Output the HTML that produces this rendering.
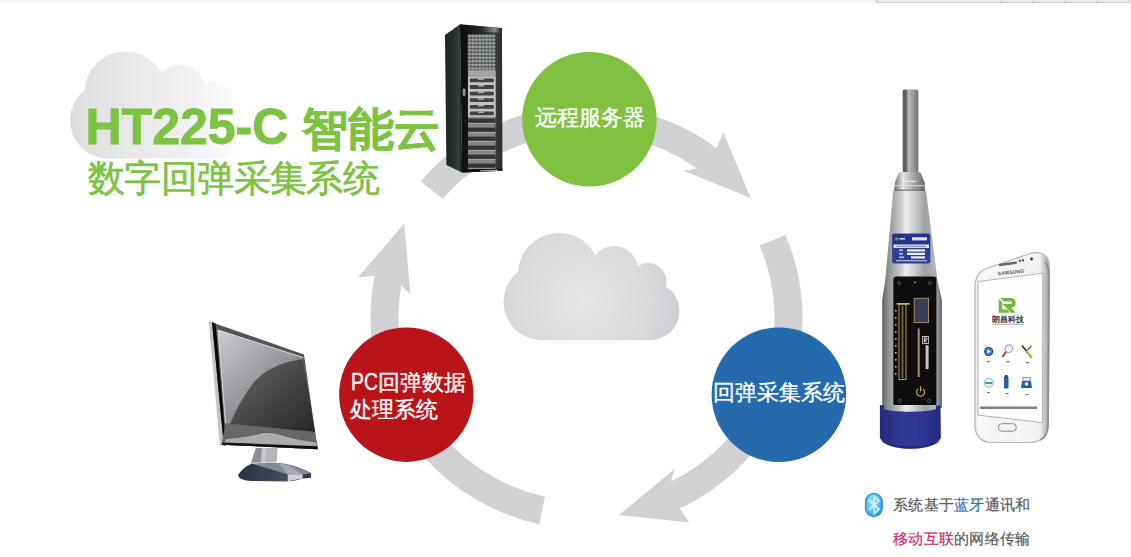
<!DOCTYPE html>
<html><head><meta charset="utf-8">
<style>
html,body{margin:0;padding:0;width:1131px;height:557px;overflow:hidden;background:#fff;font-family:"Liberation Sans",sans-serif}
#g{position:absolute;left:0;top:0}
.t{position:absolute;white-space:nowrap;line-height:1}
</style></head><body>
<svg id="g" width="1131" height="557" viewBox="0 0 1131 557">
<defs>
 <radialGradient id="cloudC" gradientUnits="userSpaceOnUse" cx="582" cy="300" r="105">
  <stop offset="0" stop-color="#e5e5e7"/><stop offset="0.65" stop-color="#d9d9dc"/><stop offset="1" stop-color="#cbccd0"/>
 </radialGradient>
 <linearGradient id="cloudT" gradientUnits="userSpaceOnUse" x1="503.5" y1="0" x2="673.5" y2="0">
  <stop offset="0" stop-color="#dddddf"/><stop offset="0.35" stop-color="#e8e8e9"/><stop offset="0.7" stop-color="#f1f1f2"/><stop offset="1" stop-color="#fdfdfd"/>
 </linearGradient>
 <g id="cloud">
  <circle cx="542" cy="301.7" r="38.5"/>
  <circle cx="559" cy="274" r="41"/>
  <circle cx="614" cy="270" r="24"/>
  <circle cx="648" cy="281.5" r="18.5"/>
  <circle cx="650.5" cy="311" r="29"/>
  <rect x="542" y="274" width="108.5" height="66.2"/>
 </g>
</defs>
<!-- top strip -->
<rect x="0" y="0" width="1131" height="2.5" fill="#f3f3f3"/>
<rect x="876.5" y="-2" width="253" height="4.5" fill="#ececec" stroke="#c8c8c8" stroke-width="1"/>
<line x1="1001.5" y1="0" x2="1001.5" y2="2.5" stroke="#c8c8c8"/>
<line x1="1033.5" y1="0" x2="1033.5" y2="2.5" stroke="#c8c8c8"/>
<line x1="1065.5" y1="0" x2="1065.5" y2="2.5" stroke="#c8c8c8"/>
<line x1="1097.5" y1="0" x2="1097.5" y2="2.5" stroke="#c8c8c8"/>
<line x1="1130.5" y1="3" x2="1130.5" y2="557" stroke="#f2f2f2"/>

<!-- title cloud -->
<g fill="url(#cloudT)" transform="translate(-433.5,-181.5)"><use href="#cloud"/></g>

<!-- center cloud -->
<g fill="url(#cloudC)"><use href="#cloud"/></g>

<!-- arrows -->
<g fill="#d0d1d3">
<path d="M420.7 181.4 A216 212 0 0 1 716.7 148.2 L723.2 132.3 L750.8 198.0 L683.4 170.7 L697.2 168.6 A188 184 0 0 0 442.8 198.7 Z"/>
<path d="M785.5 234.9 A216 212 0 0 1 679.7 508.6 L689.3 522.6 L618.9 515.1 L674.5 469.1 L671.1 481.6 A188 184 0 0 0 759.6 245.5 Z"/>
<path d="M539.4 524.2 A216 212 0 0 1 374.6 276.0 L358.0 277.3 L404.3 223.5 L410.4 294.4 L401.3 285.5 A188 184 0 0 0 544.9 496.7 Z"/>
</g>

<!-- server -->
<defs>
 <linearGradient id="srvSide" gradientUnits="userSpaceOnUse" x1="445" y1="0" x2="462" y2="0">
  <stop offset="0" stop-color="#1e2424"/><stop offset="0.6" stop-color="#2a3030"/><stop offset="0.8" stop-color="#3a4040"/><stop offset="1" stop-color="#121414"/>
 </linearGradient>
 <linearGradient id="srvFront" gradientUnits="userSpaceOnUse" x1="460" y1="0" x2="502" y2="0">
  <stop offset="0" stop-color="#0a0a0a"/><stop offset="0.18" stop-color="#141616"/><stop offset="0.8" stop-color="#3a3f3f"/><stop offset="1" stop-color="#2a2e2e"/>
 </linearGradient>
 <linearGradient id="srvTop" gradientUnits="userSpaceOnUse" x1="460" y1="0" x2="502" y2="0">
  <stop offset="0" stop-color="#2a2c2c"/><stop offset="0.55" stop-color="#9a9c9c"/><stop offset="1" stop-color="#3a3c3c"/>
 </linearGradient>
 <pattern id="mesh" patternUnits="userSpaceOnUse" x="467.8" y="34.3" width="3.45" height="3.6">
  <rect width="3.45" height="3.6" fill="#545858"/><rect x="0.45" y="0.6" width="2.5" height="2.4" rx="0.6" fill="#a8aaaa"/>
 </pattern>
 <linearGradient id="srvHi" gradientUnits="userSpaceOnUse" x1="462" y1="0" x2="502" y2="0">
  <stop offset="0" stop-color="#0e1010" stop-opacity="0"/><stop offset="0.5" stop-color="#2a2c2c"/><stop offset="0.82" stop-color="#8a8c8c"/><stop offset="1" stop-color="#1a1c1c"/>
 </linearGradient>
 <pattern id="slotp" patternUnits="userSpaceOnUse" x="468" y="0" width="2" height="2">
  <rect width="2" height="2" fill="#2a2c2c"/><rect x="0.5" y="0.5" width="1" height="1" fill="#4e5050"/>
 </pattern>
</defs>
<polygon points="445,35 460,24.3 462.1,172.4 446.4,165" fill="url(#srvSide)"/>
<polygon points="460,24.3 502,28 502.4,170.7 462.1,172.4" fill="url(#srvFront)"/>
<polygon points="460.5,24.6 502,28.2 502,33 461,30" fill="url(#srvHi)"/>
<rect x="467.8" y="34.3" width="27.6" height="36.2" fill="url(#mesh)"/>
<rect x="468" y="70.5" width="27.5" height="46.5" fill="#b8baba"/>
<rect x="468" y="70.5" width="27.5" height="6.5" fill="#a4a6a6"/>
<rect x="468" y="77.3" width="27.5" height="6.2" fill="#c4c6c6"/><rect x="469.8" y="78.5" width="24" height="3.8" rx="0.8" fill="#3e4242"/><rect x="478" y="78.5" width="6" height="1.4" fill="#b0b2b2"/>
<rect x="468" y="83.9" width="27.5" height="6.2" fill="#c4c6c6"/><rect x="469.8" y="85.1" width="24" height="3.8" rx="0.8" fill="#3e4242"/><rect x="478" y="85.1" width="6" height="1.4" fill="#b0b2b2"/>
<rect x="468" y="90.5" width="27.5" height="6.2" fill="#c4c6c6"/><rect x="469.8" y="91.7" width="24" height="3.8" rx="0.8" fill="#3e4242"/><rect x="478" y="91.7" width="6" height="1.4" fill="#b0b2b2"/>
<rect x="468" y="97.1" width="27.5" height="6.2" fill="#c4c6c6"/><rect x="469.8" y="98.3" width="24" height="3.8" rx="0.8" fill="#3e4242"/><rect x="478" y="98.3" width="6" height="1.4" fill="#b0b2b2"/>
<rect x="468" y="103.7" width="27.5" height="6.2" fill="#c4c6c6"/><rect x="469.8" y="104.9" width="24" height="3.8" rx="0.8" fill="#3e4242"/><rect x="478" y="104.9" width="6" height="1.4" fill="#b0b2b2"/>
<rect x="468" y="110.3" width="27.5" height="6.2" fill="#c4c6c6"/><rect x="469.8" y="111.5" width="24" height="3.8" rx="0.8" fill="#3e4242"/><rect x="478" y="111.5" width="6" height="1.4" fill="#b0b2b2"/>
<rect x="468" y="117" width="27.5" height="51.4" fill="#858787"/>
<rect x="468" y="118.6" width="27.5" height="4.3" fill="url(#slotp)"/><rect x="468" y="122.9" width="27.5" height="0.9" fill="#a8aaaa"/>
<rect x="468" y="127.6" width="27.5" height="4.3" fill="url(#slotp)"/><rect x="468" y="131.9" width="27.5" height="0.9" fill="#a8aaaa"/>
<rect x="468" y="136.6" width="27.5" height="4.3" fill="url(#slotp)"/><rect x="468" y="140.9" width="27.5" height="0.9" fill="#a8aaaa"/>
<rect x="468" y="145.6" width="27.5" height="4.3" fill="url(#slotp)"/><rect x="468" y="149.9" width="27.5" height="0.9" fill="#a8aaaa"/>
<rect x="468" y="154.6" width="27.5" height="4.3" fill="url(#slotp)"/><rect x="468" y="158.9" width="27.5" height="0.9" fill="#a8aaaa"/>
<rect x="468" y="163.6" width="27.5" height="4.3" fill="url(#slotp)"/><rect x="468" y="167.9" width="27.5" height="0.9" fill="#a8aaaa"/>
<polygon points="462.1,172.4 502.4,170.7 502.4,168.4 462.1,170" fill="#0a0a0a"/>
<polygon points="480,171.5 498,170.9 498,169.6 480,170.2" fill="#9a9a9a"/>
<rect x="462.6" y="88.6" width="2.9" height="7.6" rx="1.4" fill="#8a8c8c"/>

<!-- monitor -->
<defs>
 <linearGradient id="scr" gradientUnits="userSpaceOnUse" x1="220" y1="335" x2="300" y2="425">
  <stop offset="0" stop-color="#c8c8cc"/><stop offset="0.5" stop-color="#98989c"/><stop offset="1" stop-color="#626266"/>
 </linearGradient>
 <linearGradient id="scrDark" gradientUnits="userSpaceOnUse" x1="250" y1="360" x2="314" y2="430">
  <stop offset="0" stop-color="#606062"/><stop offset="1" stop-color="#28282a"/>
 </linearGradient>
 <linearGradient id="neck" gradientUnits="userSpaceOnUse" x1="251" y1="0" x2="279" y2="0">
  <stop offset="0" stop-color="#8a8a8e"/><stop offset="0.35" stop-color="#a4a4a8"/><stop offset="0.45" stop-color="#c9c9cc"/><stop offset="1" stop-color="#b0b0b4"/>
 </linearGradient>
 <linearGradient id="base" gradientUnits="userSpaceOnUse" x1="238" y1="0" x2="311" y2="0">
  <stop offset="0" stop-color="#2a3246"/><stop offset="0.5" stop-color="#3e4658"/><stop offset="1" stop-color="#525a6a"/>
 </linearGradient>
</defs>
<polygon points="209.3,321.5 304,354.5 317.6,449.2 221.4,444.7" fill="#50555a"/>
<polygon points="208.8,321.3 212,322 223.8,445.6 219.8,445.6" fill="#c4c4c6"/>
<polygon points="212,322 215.5,323.5 226,445.5 223.8,445.6" fill="#0a0a0a"/>
<polygon points="216,324 218.5,327 228,445 226.5,445" fill="#5a5e5f"/>
<polygon points="218,330 303,357.5 315,432 225.5,423.5" fill="url(#scr)"/>
<path d="M303,359 C288,361 270,366 256,380 C244,394 236,410 230,423.9 L315,432 Z" fill="url(#scrDark)"/>
<polyline points="225.5,423.5 218,330 303,357.5" fill="none" stroke="#e8e8ea" stroke-width="0.9"/>
<path d="M225.5,423.5 L315,432 L317.6,449.2 L221.4,444.7 Z" fill="#68686b"/>
<path d="M226,438.6 C240,437.5 252,435.5 260.7,433.2 C266,432 273,432.3 282,435 C290,437.5 300,440 316.5,442 L317.4,447.8 L222.8,444.2 Z" fill="#acacb0" stroke="#4a4a4c" stroke-width="0.6"/>
<path d="M223,442.5 L317.3,446.3 L317.6,449.2 L221.4,444.7 Z" fill="#101010"/>
<polygon points="256,448 277.6,448 276.7,462.5 251.1,462.5" fill="#b6b6ba"/>
<polygon points="256,448 262,448 261,462.5 251.1,462.5" fill="#8e8e92"/>
<polygon points="262,448 266,448 265,462.5 261,462.5" fill="#c8c8cc"/>
<path d="M238.1,475 C241,470 246,466 251.5,463.8 L278.5,462.9 C288,464 296,466 301.8,468.7 C306,470.5 309.5,472 311,473.2 L311,477.7 L302.7,478.6 C298,480 293,481.3 287.5,481.3 L252,481 C244,480.8 238.5,478.5 238.1,475 Z" fill="#323a4c"/>
<polygon points="251.5,463.8 278.5,462.9 291,465.5 301.8,468.7 311,473.2 302.7,474.5 287.5,474.6" fill="#868a94"/>
<polygon points="279,463.2 289,465.2 302.7,474.5 287.5,474.6" fill="#a4a8b0"/>
<polygon points="287.5,474.6 302.7,474.5 302.7,478.6 287.5,481.3" fill="#d2d2d6"/>
<polygon points="238.1,475 251.5,463.8 287.5,474.6 287.5,481.3 252,481" fill="url(#base)"/>

<!-- hammer -->
<defs>
 <linearGradient id="rod" x1="0" y1="0" x2="1" y2="0">
  <stop offset="0" stop-color="#505254"/><stop offset="0.22" stop-color="#626466"/><stop offset="0.38" stop-color="#b8babc"/><stop offset="0.55" stop-color="#a4a6a8"/><stop offset="0.85" stop-color="#86888a"/><stop offset="1" stop-color="#606264"/>
 </linearGradient>
 <linearGradient id="body" gradientUnits="userSpaceOnUse" x1="882" y1="0" x2="942" y2="0">
  <stop offset="0" stop-color="#5e6062"/><stop offset="0.1" stop-color="#8e9092"/><stop offset="0.3" stop-color="#c4c6c8"/><stop offset="0.4" stop-color="#eeeeef"/><stop offset="0.52" stop-color="#cfd1d3"/><stop offset="0.72" stop-color="#9ea0a2"/><stop offset="0.88" stop-color="#b4b6b8"/><stop offset="1" stop-color="#606264"/>
 </linearGradient>
 <linearGradient id="collar" gradientUnits="userSpaceOnUse" x1="894" y1="0" x2="925" y2="0">
  <stop offset="0" stop-color="#6a6c6e"/><stop offset="0.3" stop-color="#e6e6e8"/><stop offset="0.6" stop-color="#a8aaac"/><stop offset="1" stop-color="#6a6c6e"/>
 </linearGradient>
 <linearGradient id="cap" gradientUnits="userSpaceOnUse" x1="879" y1="0" x2="942" y2="0">
  <stop offset="0" stop-color="#22287a"/><stop offset="0.25" stop-color="#2e3692"/><stop offset="0.6" stop-color="#303898"/><stop offset="1" stop-color="#22297c"/>
 </linearGradient>
</defs>
<rect x="902.7" y="89.5" width="15.6" height="83" rx="1.8" fill="url(#rod)"/>
<path d="M901.5,172 C899,172 898,174 897.5,176 L895,182 L894,191 L925,191 L924.5,182 L922,176 C921.5,174 920.5,172 918,172 Z" fill="url(#collar)"/>
<rect x="895" y="182.5" width="29.5" height="6" fill="url(#collar)"/><rect x="903" y="180.8" width="13" height="1.2" fill="#f0f0f0" opacity="0.9"/><rect x="895" y="185" width="29.5" height="1.2" fill="#d8d8da" opacity="0.8"/>

<rect x="894.5" y="189.8" width="30.5" height="1.3" fill="#3a3c3e"/>
<path d="M893.3,190.5 L926,190.5 L937.6,281 L941.9,300 L941.9,408 L882.2,408 L882.2,300 L885.2,281 Z" fill="url(#body)"/>
<path d="M892.1,235.5 C892.1,234.2 893,233.5 894.5,233.5 L928,233.5 C929.5,233.5 930.3,234.2 930.3,235.5 L930.3,261.6 C930.3,262.9 929.5,263.6 928,263.6 L894.5,263.6 C893,263.6 892.1,262.9 892.1,261.6 Z" fill="#2e3f96"/>
<rect x="893" y="234.3" width="36.4" height="10" rx="1.5" fill="#24348a"/>
<circle cx="896.8" cy="239" r="1.8" fill="#4aa84a"/><rect x="899.5" y="238" width="5.5" height="1.6" fill="#c8d0ea"/><rect x="912" y="237.2" width="15" height="3.2" fill="#d8def0"/>
<rect x="893.5" y="244.5" width="35.5" height="3.4" fill="#e4e8f0"/><rect x="896" y="245.6" width="30" height="1.1" fill="#7a82a8"/>
<g fill="#eef0f8"><rect x="907" y="249.3" width="18" height="2.2"/><rect x="907" y="252.8" width="18" height="2.2"/><rect x="911" y="256.3" width="14" height="2.2"/></g>
<g fill="#b8c0e0"><rect x="899" y="249.5" width="4" height="1.6"/><rect x="899" y="253" width="4" height="1.6"/><rect x="899" y="256.5" width="5" height="1.6"/></g>
<rect x="896" y="260" width="31" height="1.3" fill="#a8b2d8"/>
<rect x="893.3" y="276.6" width="43.1" height="130.4" rx="3" fill="#0e0e10"/>
<g fill="none" stroke="#666" stroke-width="0.8"><circle cx="899" cy="283" r="1.5"/><circle cx="930" cy="283" r="1.5"/><circle cx="899.7" cy="400.8" r="1.6"/><circle cx="928.9" cy="400.8" r="1.6"/></g>
<circle cx="915" cy="282.5" r="0.8" fill="#ccc"/>
<rect x="914.2" y="298.3" width="14.3" height="24.3" fill="#3a3c58" stroke="#a89868" stroke-width="0.9"/>
<rect x="899" y="304" width="7" height="75.5" fill="none" stroke="#c8a850" stroke-width="0.9"/>
<rect x="896.6" y="303" width="13.2" height="1.6" fill="#d8b850"/>
<line x1="902.5" y1="306" x2="902.5" y2="378" stroke="#8a7440" stroke-width="1.5"/>
<g fill="#d8b850"><rect x="895" y="310" width="1.6" height="1.6"/><rect x="895" y="317" width="1.6" height="1.6"/><rect x="895" y="324" width="1.6" height="1.6"/><rect x="895" y="331" width="1.6" height="1.6"/><rect x="895" y="338" width="1.6" height="1.6"/><rect x="895" y="345" width="1.6" height="1.6"/><rect x="895" y="352" width="1.6" height="1.6"/><rect x="895" y="359" width="1.6" height="1.6"/><rect x="895" y="366" width="1.6" height="1.6"/><rect x="895" y="373" width="1.6" height="1.6"/></g>
<rect x="917.7" y="328.5" width="2" height="48.5" fill="#bca878" opacity="0.85"/>
<rect x="922.6" y="336.4" width="6" height="7" fill="none" stroke="#ddd" stroke-width="0.8"/><path d="M924.3,342.5 L924.3,337.8 L926.3,337.8 C927.3,337.8 927.3,340 926.3,340 L924.3,340 L927,342.5" fill="none" stroke="#fff" stroke-width="0.9"/>
<rect x="925.6" y="345.3" width="3" height="23.7" fill="#d8d8d8" opacity="0.9"/>
<path d="M918.2,389 A4,4 0 1 0 923,389" fill="none" stroke="#d8b850" stroke-width="1.1"/><line x1="920.6" y1="386.3" x2="920.6" y2="391.3" stroke="#d8b850" stroke-width="1.1"/>
<path d="M879.9,405 C895,406.5 925,406.5 940.5,405.5 L940.8,438 C938,444.5 925,448.8 910.5,448.8 C896,448.8 883,444.5 879.9,438 Z" fill="url(#cap)"/>
<path d="M880.5,440 C884,445.5 896,448.8 910.5,448.8 C925,448.8 937,445.5 940.5,440 C934,444 922,446 910.5,446 C899,446 887,444 880.5,440 Z" fill="#1a2060" opacity="0.6"/>
<path d="M884,405 L936,405 L936,409.3 C925,412.6 895,412.6 884,409.3 Z" fill="url(#body)"/>

<!-- phone -->
<defs>
 <linearGradient id="phEdge" gradientUnits="userSpaceOnUse" x1="970" y1="0" x2="1052" y2="0">
  <stop offset="0" stop-color="#c8c8ca"/><stop offset="0.1" stop-color="#f6f6f6"/><stop offset="0.85" stop-color="#f2f2f2"/><stop offset="0.95" stop-color="#a8a8aa"/><stop offset="1" stop-color="#d8d8da"/>
 </linearGradient>
 <radialGradient id="bt" cx="0.4" cy="0.35" r="0.7">
  <stop offset="0" stop-color="#a0e0f6"/><stop offset="0.6" stop-color="#5cc0ec"/><stop offset="1" stop-color="#2a94dc"/>
 </radialGradient>
</defs>
<path d="M974.9,424 L974.9,287 C975,276 979.5,270 991,267 L1030,253.5 C1041,250.5 1049.5,255 1049.5,268 L1048.5,424 C1048.5,436 1042,442 1030,442.5 L992,442.5 C980,442 974.9,436 974.9,424 Z" fill="url(#phEdge)" stroke="#b4b4b6" stroke-width="1.2"/>
<path d="M1045,262 C1048,266 1049,270 1049,275 L1048,424 C1048,433 1045,438 1040,440" fill="none" stroke="#8e8e90" stroke-width="1.6"/>
<polygon points="978,281.6 1042.8,273.2 1042.5,422.6 978,415.1" fill="#fefefe" stroke="#9aa0b8" stroke-width="0.8"/>
<rect x="998.5" y="262.8" width="18.5" height="2.4" rx="1.2" fill="#6a6a6c" transform="rotate(-8 1007 264)"/>
<circle cx="1020" cy="260.8" r="1.1" fill="#333"/><circle cx="1023" cy="260.4" r="1.1" fill="#333"/><circle cx="1031.5" cy="259" r="1.4" fill="#333"/>
<text x="997.5" y="274.3" font-size="5" fill="#555" font-weight="bold" font-family="Liberation Sans" transform="rotate(-6 1008 272)" letter-spacing="0.2">SAMSUNG</text>
<path d="M998.7,298.5 L1002.3,302.5 L1002.3,309.5 L1007,309.5 L1010,312.7 L998.7,312.7 Z" fill="#74b83e"/>
<path d="M1000.5,298 L1010.5,298 C1014,298 1015.8,300.5 1015.8,303 C1015.8,305.8 1014,307.5 1011,307.8 L1015.8,312.7 L1011,312.7 L1002.5,304 L1010,304 C1011.5,304 1012,303.5 1012,302.8 C1012,302 1011.5,301.5 1010,301.5 L1003.8,301.5 Z" fill="#74b83e"/>
<text x="991.8" y="322" font-size="8" fill="#3a3a3a" font-family="Liberation Sans" font-weight="bold">朗昌科技</text>
<rect x="992" y="323.8" width="32" height="0.8" fill="#999"/>
<circle cx="988.7" cy="351.5" r="4.6" fill="#1e3c8c"/><circle cx="988.7" cy="351.5" r="3.4" fill="#3a86d8"/><path d="M987.5,349.5 L990.8,351.5 L987.5,353.5 Z" fill="#fff"/><line x1="985" y1="345" x2="987" y2="347" stroke="#999" stroke-width="0.8"/>
<circle cx="1008.8" cy="348.7" r="3.8" fill="#eef4fa" stroke="#8aa8c8" stroke-width="1.2"/><line x1="1006" y1="351.8" x2="1002.3" y2="357" stroke="#c02828" stroke-width="1.8"/>
<line x1="1022" y1="345.5" x2="1031.5" y2="357.5" stroke="#222" stroke-width="1.5"/><line x1="1031.5" y1="346" x2="1026" y2="352" stroke="#666" stroke-width="1.4"/><line x1="1026.5" y1="350.5" x2="1032" y2="357.5" stroke="#e0b830" stroke-width="2"/>
<circle cx="988.7" cy="382.8" r="4.5" fill="#e8f4fc" stroke="#8ab8e0" stroke-width="1"/><rect x="985.2" y="382" width="7" height="2" fill="#4a9a8a"/>
<rect x="1004" y="376.5" width="4.5" height="12" rx="1.2" fill="#2a5aa8"/><rect x="1005" y="375" width="2.5" height="2.5" fill="#1a3a78"/>
<path d="M1022,381 L1031,381 L1032,388 L1021,388 Z" fill="#2a5ab0"/><circle cx="1026.5" cy="384" r="1.8" fill="#eef"/><rect x="1023" y="377.5" width="7" height="3.5" fill="none" stroke="#777" stroke-width="0.8"/>
<g fill="#777"><rect x="987" y="361" width="3" height="1.2"/><rect x="1006.5" y="361" width="3" height="1.2"/><rect x="1026" y="362" width="3" height="1.2"/><rect x="987" y="392" width="3" height="1.2"/><rect x="1005.5" y="393" width="3" height="1.2"/><rect x="1025.5" y="394" width="3" height="1.2"/></g>
<rect x="980" y="406.5" width="57" height="2.5" fill="#6a6a6a" opacity="0.85"/>
<rect x="998.4" y="423.7" width="17.9" height="7.5" rx="3.5" fill="#f2f2f2" stroke="#8a8a8c" stroke-width="1"/>
<!-- bluetooth -->
<rect x="865.6" y="493.6" width="16.6" height="22.8" rx="7.5" ry="8.5" fill="url(#bt)" stroke="#2a8ad8" stroke-width="1.3"/>
<path d="M868.8,500 L879,509.3 L874.3,513.5 L874.3,496.5 L879,500.7 L868.8,510" fill="none" stroke="#e8f8ff" stroke-width="1.7" opacity="0.8"/>

<!-- circles -->
<circle cx="589.4" cy="119.3" r="67.3" fill="#80c141"/>
<circle cx="406.3" cy="394.7" r="67.2" fill="#ba141b"/>
<circle cx="778.9" cy="394.7" r="67.3" fill="#266aae"/>

</svg>
<div class="t" style="left:85.5px;top:102px;font-size:50px;font-weight:bold;color:#7cc243;-webkit-text-stroke:0.8px #7cc243">HT225-C</div><div class="t" style="left:302px;top:105.5px;font-size:46px;font-weight:bold;color:#7cc243;-webkit-text-stroke:0.5px #7cc243">智能云</div>
<div class="t" style="left:88px;top:160px;font-size:37px;letter-spacing:-0.6px;color:#7cc243;-webkit-text-stroke:0.6px #7cc243">数字回弹采集系统</div>
<div class="t" style="left:535px;top:107px;font-size:22px;color:#fff;-webkit-text-stroke:0.35px #fff">远程服务器</div>
<div class="t" style="left:349.5px;top:368.5px;font-size:22px;color:#fff;-webkit-text-stroke:0.35px #fff;line-height:27px"><span style="display:inline-block;transform:scale(0.88,1.06);transform-origin:0 80%;margin-right:-3.4px;margin-left:1px">PC</span>回弹数据<br>处理系统</div>
<div class="t" style="left:713px;top:382px;font-size:22px;color:#fff;-webkit-text-stroke:0.35px #fff">回弹采集系统</div>
<div class="t" style="left:893px;top:496.5px;font-size:15px;letter-spacing:0.25px;color:#5a5a5a;-webkit-text-stroke:0.2px currentColor">系统基于<span style="color:#2d6cb6">蓝牙</span>通讯和</div>
<div class="t" style="left:893px;top:530.5px;font-size:15px;letter-spacing:0.25px;color:#5a5a5a;-webkit-text-stroke:0.2px currentColor"><span style="color:#c52a6c">移动互联</span>的网络传输</div>
</body></html>
